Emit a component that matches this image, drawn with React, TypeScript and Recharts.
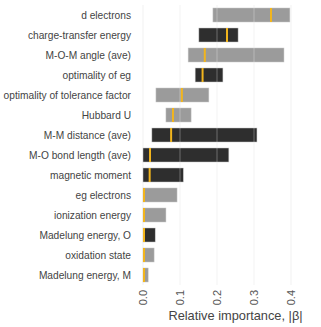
import React from "react";
import { Bar, BarChart, CartesianGrid, ReferenceLine, XAxis, YAxis } from "recharts";

const FEATURES = [
  "d electrons",
  "charge-transfer energy",
  "M-O-M angle (ave)",
  "optimality of eg",
  "optimality of tolerance factor",
  "Hubbard U",
  "M-M distance (ave)",
  "M-O bond length (ave)",
  "magnetic moment",
  "eg electrons",
  "ionization energy",
  "Madelung energy, O",
  "oxidation state",
  "Madelung energy, M",
];
const LOWS = [0.189, 0.151, 0.122, 0.141, 0.035, 0.062, 0.024, 0, 0, 0, 0, 0, 0, 0];
const HIGHS = [0.397, 0.257, 0.381, 0.216, 0.178, 0.13, 0.308, 0.232, 0.109, 0.092, 0.062, 0.033, 0.03, 0.014];
const MEDIANS = [0.346, 0.227, 0.167, 0.161, 0.105, 0.081, 0.076, 0.019, 0.018, 0, 0, 0, 0, 0];
const DARK = [false, true, false, true, false, false, true, true, true, false, false, true, false, false];
const X_TICKS = [0, 0.1, 0.2, 0.3, 0.4];

const GRAY = "#9b9b9b";
const BLACK = "#2e2e2e";
const ORANGE = "#f2b51d";
const FONT = "'Liberation Sans', Arial, sans-serif";

const data = FEATURES.map((name, i) => ({
  name,
  range: [LOWS[i], HIGHS[i]],
  lo: LOWS[i],
  hi: HIGHS[i],
  med: MEDIANS[i],
  dark: DARK[i],
}));

// range bar with the median drawn as an orange stroke
function RangeBar(props: any) {
  const { x, y, width, height, payload } = props;
  const span = payload.hi - payload.lo;
  const mx = x + (span > 0 ? (width * (payload.med - payload.lo)) / span : 0);
  const lx = Math.max(mx, x + 1);
  return (
    <g>
      <rect
        x={x}
        y={y}
        width={width}
        height={height}
        fill={payload.dark ? BLACK : GRAY}
        stroke="#c8c8c8"
        strokeWidth={0.5}
      />
      <line x1={lx} x2={lx} y1={y} y2={y + height} stroke={ORANGE} strokeWidth={2} />
    </g>
  );
}

function XTick(props: any) {
  const { x, y, payload } = props;
  return (
    <text
      x={x}
      y={y}
      transform={`rotate(-90, ${x}, ${y})`}
      textAnchor="end"
      dy="0.35em"
      fill="#555"
      fontSize={11}
      fontFamily={FONT}
    >
      {payload.value.toFixed(1)}
    </text>
  );
}

function YTick(props: any) {
  const { x, y, payload } = props;
  return (
    <text x={x} y={y} textAnchor="end" dy="0.35em" fill="#444" fontSize={10.2} fontFamily={FONT}>
      {payload.value}
    </text>
  );
}

export default function App() {
  return (
    <div style={{ position: "absolute", left: 0, top: 0, width: 321, height: 327, overflow: "hidden", background: "#fff" }}>
      <BarChart
        width={330}
        height={327}
        data={data}
        layout="vertical"
        margin={{ top: 5, right: 2, bottom: 0, left: 0 }}
        barCategoryGap={3}
      >
        <CartesianGrid horizontal={false} stroke="#f1f1f1" />
        <XAxis
          type="number"
          domain={[0, 0.5]}
          ticks={X_TICKS}
          axisLine={false}
          tickLine={false}
          tickSize={0}
          tickMargin={5}
          height={42}
          tick={<XTick />}
          label={{
            value: "Relative importance, |β|",
            position: "insideBottom",
            offset: 7,
            fill: "#444",
            fontSize: 12.8,
            fontFamily: FONT,
          }}
        />
        <YAxis
          type="category"
          dataKey="name"
          width={143}
          axisLine={false}
          tickLine={false}
          tickSize={0}
          tickMargin={12}
          interval={0}
          tick={<YTick />}
        />
        <Bar dataKey="range" isAnimationActive={false} shape={<RangeBar />} />
        {[0.1, 0.2, 0.3].map((v) => (
          <ReferenceLine key={v} x={v} stroke="rgba(255,255,255,0.3)" strokeWidth={1} />
        ))}
      </BarChart>
    </div>
  );
}
